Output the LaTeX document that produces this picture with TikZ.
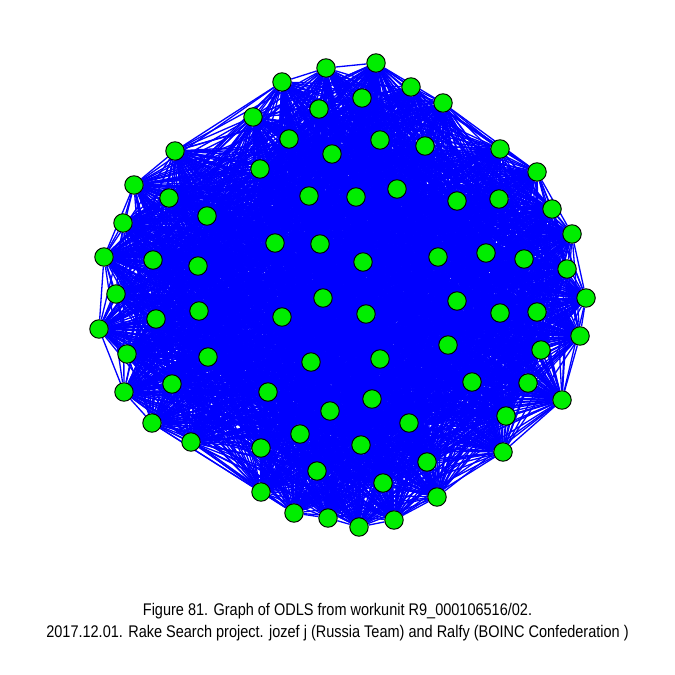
\documentclass[tikz,border=0pt]{standalone}
\usepackage{fontspec}
\newfontfamily\capfont[FakeStretch=0.86]{Liberation Sans}
\definecolor{vgreen}{RGB}{0,238,0}
\pgfdeclarelayer{back}
\pgfsetlayers{back,main}
\tikzset{
  vertex/.style={circle,draw=black,fill=vgreen,line width=0.55pt,minimum size=0.37cm,inner sep=0pt},
  link/.style={draw=blue,line width=0.75pt},
  caption/.style={align=center,font=\capfont\fontsize{9.6}{12.4}\selectfont}
}

\begin{document}
\begin{tikzpicture}[x=0.02cm,y=-0.02cm]

\useasboundingbox (0,0) rectangle (675,675);

% vertices
\foreach \n/\x/\y in {1/282/82,2/326/68,3/376/63,4/411/87,5/443/103,6/319/109,7/362/98,
  8/253/117,9/289/139,10/332/154,11/380/140,12/425/146,13/500/149,14/537/172,
  15/175/151,16/260/169,17/134/185,18/169/198,19/309/196,20/356/197,21/397/189,
  22/457/201,23/499/199,24/552/209,25/123/223,26/207/216,27/572/234,28/104/257,
  29/153/260,30/198/266,31/275/243,32/320/244,33/363/262,34/438/257,35/486/253,
  36/524/259,37/567/269,38/116/294,39/586/298,40/99/329,41/156/319,42/199/311,
  43/282/317,44/323/298,45/366/314,46/457/301,47/500/313,48/537/312,49/580/336,
  50/127/354,51/208/357,52/311/362,53/380/359,54/448/345,55/541/350,56/124/392,
  57/172/384,58/268/392,59/330/411,60/372/399,61/472/382,62/528/383,63/562/400,
  64/152/423,65/191/442,66/300/434,67/361/445,68/409/423,69/506/416,70/261/448,
  71/317/471,72/427/462,73/503/452,74/383/483,75/261/492,76/437/497,77/294/513,
  78/328/518,79/359/527,80/394/520}
  \node[vertex] (v\n) at (\x,\y) {};

% edges
\begin{pgfonlayer}{back}
\foreach \i in {1,...,79} {
  \pgfmathtruncatemacro\nxt{\i+1}
  \foreach \j in {\nxt,...,80} {
    \pgfmathtruncatemacro\h{mod(mod(\i*\j,97)*31+\i*17+\j*11,13)}
    \ifnum\h>1 \draw[link] (v\i) -- (v\j); \fi
  }
}
\end{pgfonlayer}

\node[caption] (cap) at (337.5,622) {Figure 81. Graph of ODLS from workunit R9\_000106516/02.\\
2017.12.01. Rake Search project. jozef j (Russia Team) and Ralfy (BOINC Confederation )};

\end{tikzpicture}
\end{document}
